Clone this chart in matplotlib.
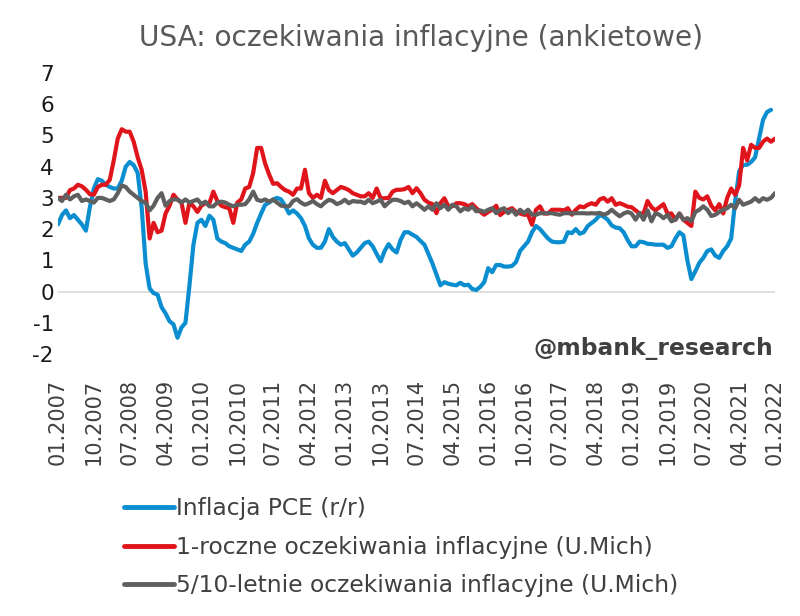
import numpy as np
import matplotlib
matplotlib.use("Agg")
import matplotlib.pyplot as plt

# monthly values, 01.2007 ... 01.2022
pce = [
    2.15, 2.45, 2.6, 2.35, 2.45, 2.3, 2.15, 1.95, 2.7, 3.3, 3.6, 3.55,        # 2007
    3.42, 3.35, 3.3, 3.3, 3.55, 4.0, 4.15, 4.05, 3.8, 2.7, 0.9, 0.1,          # 2008
    -0.05, -0.1, -0.5, -0.7, -0.95, -1.05, -1.48, -1.15, -1.0, 0.2, 1.5, 2.2,  # 2009
    2.3, 2.1, 2.43, 2.3, 1.7, 1.6, 1.55, 1.45, 1.4, 1.35, 1.3, 1.5,           # 2010
    1.6, 1.85, 2.2, 2.5, 2.78, 2.85, 2.95, 3.0, 2.95, 2.75, 2.5, 2.6,         # 2011
    2.5, 2.35, 2.1, 1.7, 1.5, 1.4, 1.4, 1.6, 2.0, 1.75, 1.6, 1.5,             # 2012
    1.55, 1.35, 1.15, 1.25, 1.4, 1.55, 1.6, 1.45, 1.2, 0.97, 1.3, 1.52,       # 2013
    1.35, 1.25, 1.65, 1.9, 1.9, 1.82, 1.75, 1.62, 1.5, 1.2, 0.9, 0.55,        # 2014
    0.2, 0.3, 0.25, 0.22, 0.2, 0.28, 0.2, 0.22, 0.08, 0.05, 0.15, 0.3,        # 2015
    0.75, 0.62, 0.85, 0.85, 0.8, 0.8, 0.82, 0.95, 1.3, 1.45, 1.6, 1.9,        # 2016
    2.1, 2.0, 1.85, 1.7, 1.6, 1.58, 1.58, 1.6, 1.9, 1.87, 2.0, 1.85,          # 2017
    1.9, 2.1, 2.2, 2.3, 2.45, 2.4, 2.3, 2.12, 2.05, 2.03, 1.9, 1.65,          # 2018
    1.45, 1.45, 1.6, 1.58, 1.53, 1.52, 1.5, 1.5, 1.5, 1.4, 1.45, 1.7,         # 2019
    1.9, 1.8, 1.0, 0.4, 0.65, 0.92, 1.08, 1.3, 1.35, 1.15, 1.08, 1.3,         # 2020
    1.45, 1.7, 2.9, 3.85, 4.06, 4.06, 4.15, 4.3, 4.9, 5.5, 5.75, 5.82,        # 2021
    np.nan,                                                                   # 2022
]

umich_1y = [
    3.0, 3.0, 3.0, 3.25, 3.3, 3.42, 3.37, 3.26, 3.12, 3.1, 3.35, 3.42,
    3.42, 3.58, 4.2, 4.9, 5.2, 5.12, 5.12, 4.8, 4.3, 3.9, 3.2, 1.7,
    2.2, 1.9, 1.95, 2.5, 2.75, 3.1, 2.95, 2.85, 2.2, 2.85, 2.73, 2.55,
    2.75, 2.83, 2.83, 3.2, 2.9, 2.75, 2.7, 2.67, 2.2, 2.85, 2.95, 3.3,
    3.35, 3.8, 4.6, 4.6, 4.1, 3.75, 3.45, 3.47, 3.35, 3.25, 3.2, 3.1,
    3.3, 3.3, 3.9, 3.15, 3.0, 3.1, 3.0, 3.55, 3.25, 3.15, 3.25, 3.35,
    3.31, 3.25, 3.15, 3.1, 3.05, 3.05, 3.15, 3.0, 3.3, 2.99, 2.99, 3.0,
    3.2, 3.26, 3.26, 3.28, 3.35, 3.15, 3.31, 3.15, 2.94, 2.85, 2.8, 2.51,
    2.83, 2.99, 2.73, 2.73, 2.83, 2.83, 2.8, 2.73, 2.8, 2.67, 2.56, 2.46,
    2.55, 2.62, 2.75, 2.45, 2.55, 2.62, 2.67, 2.55, 2.5, 2.46, 2.46, 2.14,
    2.62, 2.73, 2.5, 2.5, 2.62, 2.62, 2.62, 2.6, 2.67, 2.46, 2.62, 2.73,
    2.7, 2.78, 2.83, 2.78, 2.95, 3.0, 2.88, 2.99, 2.78, 2.83, 2.78, 2.72,
    2.7, 2.6, 2.5, 2.5, 2.9, 2.7, 2.6, 2.7, 2.8, 2.5, 2.5, 2.3,
    2.5, 2.3, 2.2, 2.1, 3.2, 3.0, 2.95, 3.05, 2.75, 2.6, 2.8, 2.5,
    3.0, 3.3, 3.1, 3.4, 4.6, 4.2, 4.7, 4.6, 4.6, 4.8, 4.9, 4.8,
    4.9,
]

umich_5y = [
    3.0, 2.9, 3.1, 2.95, 3.05, 3.1, 2.9, 2.95, 2.9, 2.85, 3.0, 3.0,
    2.95, 2.9, 2.95, 3.15, 3.4, 3.35, 3.2, 3.1, 3.0, 2.9, 2.85, 2.6,
    2.75, 3.0, 3.15, 2.75, 2.9, 2.95, 2.95, 2.85, 2.95, 2.85, 2.9, 2.95,
    2.8, 2.88, 2.73, 2.73, 2.85, 2.88, 2.85, 2.78, 2.73, 2.78, 2.78, 2.8,
    2.95, 3.2, 2.94, 2.9, 2.95, 2.88, 2.94, 2.85, 2.75, 2.73, 2.73, 2.9,
    2.96, 2.85, 2.78, 2.83, 2.9, 2.8, 2.73, 2.85, 2.94, 2.9, 2.8, 2.85,
    2.94, 2.83, 2.9, 2.88, 2.88, 2.83, 2.94, 2.83, 2.88, 2.94, 2.73, 2.85,
    2.94, 2.94, 2.9, 2.83, 2.88, 2.73, 2.83, 2.73, 2.62, 2.73, 2.62, 2.83,
    2.67, 2.78, 2.62, 2.78, 2.73, 2.57, 2.67, 2.62, 2.73, 2.57, 2.6, 2.55,
    2.62, 2.67, 2.51, 2.62, 2.67, 2.51, 2.62, 2.46, 2.62, 2.51, 2.62, 2.46,
    2.46, 2.51, 2.51, 2.51, 2.51, 2.48, 2.46, 2.51, 2.51, 2.5, 2.51, 2.51,
    2.51, 2.5, 2.51, 2.5, 2.52, 2.46, 2.51, 2.62, 2.51, 2.41, 2.5, 2.55,
    2.5, 2.3, 2.51, 2.3, 2.6, 2.25, 2.51, 2.46, 2.35, 2.46, 2.25, 2.3,
    2.5, 2.3, 2.35, 2.25, 2.55, 2.62, 2.73, 2.62, 2.42, 2.46, 2.55, 2.62,
    2.67, 2.78, 2.67, 2.94, 2.78, 2.83, 2.88, 2.99, 2.88, 2.99, 2.94, 3.0,
    3.15,
]

tick_labels = [
    "01.2007", "10.2007", "07.2008", "04.2009", "01.2010", "10.2010", "07.2011",
    "04.2012", "01.2013", "10.2013", "07.2014", "04.2015", "01.2016", "10.2016",
    "07.2017", "04.2018", "01.2019", "10.2019", "07.2020", "04.2021", "01.2022",
]

series_labels = [
    "Inflacja PCE (r/r)",
    "1-roczne oczekiwania inflacyjne (U.Mich)",
    "5/10-letnie oczekiwania inflacyjne (U.Mich)",
]

plt.rcParams["font.family"] = ["DejaVu Sans"]

fig = plt.figure(figsize=(8.0, 6.16), dpi=100)
ax = fig.add_axes([58 / 800, 1 - 354 / 616, (775 - 58) / 800, (354 - 73) / 616])

x = np.arange(len(umich_1y))
colors = ["#0b8ed0", "#e0141b", "#5f5f5f"]
for vals, col, lab in zip([pce, umich_1y, umich_5y], colors, series_labels):
    ax.plot(x[:len(vals)], vals, color=col, lw=3.0, label=lab,
            solid_joinstyle="round", solid_capstyle="round")

ax.axhline(0, color="#d9d9d9", lw=1.2, zorder=0)

ax.set_xlim(0, 180)
ax.set_ylim(-2, 7)
ax.set_yticks(range(-2, 8))
ax.set_yticklabels([str(v) for v in range(-2, 8)])
ax.set_xticks(range(0, 181, 9))
ax.set_xticklabels(tick_labels, rotation=90)
ax.tick_params(axis="y", length=0, pad=3, labelsize=15.5, labelcolor="#1a1a1a")
ax.tick_params(axis="x", length=0, pad=18, labelsize=15, labelcolor="#404040")
for s in ax.spines.values():
    s.set_visible(False)

fig.text(421 / 800, 1 - 38 / 616, "USA: oczekiwania inflacyjne (ankietowe)",
         ha="center", va="center", fontsize=20.2, color="#595959")
fig.text(773 / 800, 1 - 348 / 616, "@mbank_research", ha="right", va="center",
         fontsize=16.8, fontweight="bold", color="#404040")

leg = fig.legend(loc="upper left", bbox_to_anchor=(115 / 800, 1 - 488 / 616),
                 frameon=False, fontsize=16.8, handlelength=2.15, handletextpad=0.08,
                 labelspacing=0.66, borderaxespad=0)
for t in leg.get_texts():
    t.set_color("#404040")
for h in leg.get_lines():
    h.set_linewidth(3.5)

fig.savefig("out.png", dpi=100)
